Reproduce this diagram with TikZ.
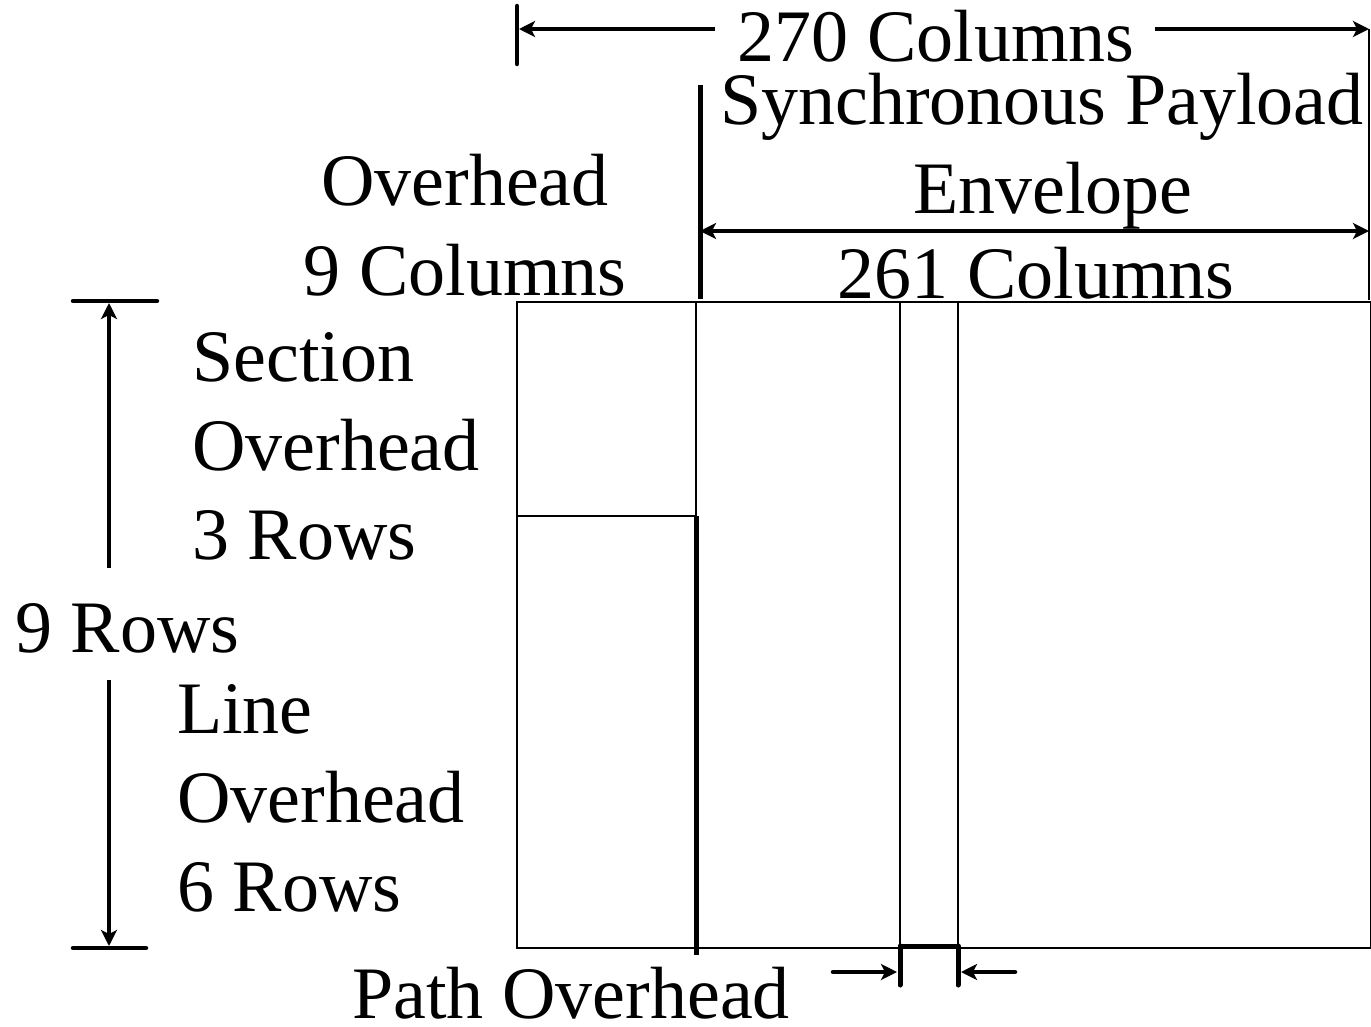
\documentclass[tikz,border=0pt]{standalone}
\usepackage{fontspec}
\setmainfont{Liberation Serif}
\usetikzlibrary{arrows.meta}
\begin{document}
\begin{tikzpicture}[x=1pt,y=-1pt,
  lbl/.style={inner sep=0pt,font=\fontsize{74}{89}\selectfont},
  thin/.style={line width=2.5pt},
  thick/.style={line width=5pt},
  arr/.style={line width=4.5pt,-{Stealth[length=16pt,width=16pt,inset=4pt]}},
  tick/.style={line width=4.5pt,line cap=round}]
\useasboundingbox (0,0) rectangle (1371,1026);
% main frame
\coordinate (tl) at (517,302);
\coordinate (br) at (1371,948);
\draw[thin] (tl) rectangle (br);
\coordinate (oh1) at (696,302);
\coordinate (oh2) at (696,516);
\coordinate (oh3) at (696,955);
\coordinate (so) at (517,516);
\draw[thin] (oh1) -- (oh2);
\draw[thick] (oh2) -- (oh3);
\draw[thin] (so) -- (oh2);
% path overhead column
\coordinate (p1t) at (900,302);
\coordinate (p1b) at (900,946);
\coordinate (p1e) at (900,985);
\coordinate (p2t) at (958,302);
\coordinate (p2b) at (958,946);
\coordinate (p2e) at (958,985);
\draw[thin] (p1t) -- (p1b);
\draw[thin] (p2t) -- (p2b);
\draw[thick,line cap=round] (p1b) -- (p1e);
\draw[thick,line cap=round] (p2b) -- (p2e);
\draw[thick] (p1b) -- (p2b);
\coordinate (pa1) at (833,972);
\coordinate (pa1e) at (897,972);
\coordinate (pa2) at (1015,972);
\coordinate (pa2e) at (961,972);
\draw[arr,line cap=round] (pa1) -- (pa1e);
\draw[arr,line cap=round] (pa2) -- (pa2e);
\node[lbl,anchor=base west] (path) at (352,1018) {Path Overhead};
% top dimension: 270 columns
\coordinate (t0a) at (517,6);
\coordinate (t0b) at (517,64);
\draw[tick] (t0a) -- (t0b);
\node[lbl,anchor=base] (c270) at (936,61) {270 Columns};
\coordinate (a270l) at (519,29);
\coordinate (a270r) at (1369,29);
\draw[arr] (c270.west|-a270l) ++(-22,0) -- (a270l);
\draw[arr] (c270.east|-a270r) ++(20,0) -- (a270r);
\coordinate (rv1) at (1369,29);
\coordinate (rv2) at (1369,300);
\draw[thin] (rv1) -- (rv2);
% SPE
\coordinate (spe1) at (700,85);
\coordinate (spe2) at (700,299);
\draw[thick] (spe1) -- (spe2);
\coordinate (a261l) at (700,231);
\coordinate (a261r) at (1369,231);
\draw[arr,{Stealth[length=16pt,width=16pt,inset=4pt]}-{Stealth[length=16pt,width=16pt,inset=4pt]}] (a261l) -- (a261r);
\node[lbl,anchor=base west] (spe) at (720,124) {Synchronous Payload};
\node[lbl,anchor=base] (env) at (1053,213) {Envelope};
\node[lbl,anchor=base] (c261) at (1036,298) {261 Columns};
% overhead
\node[lbl,anchor=base] (ovh) at (465,205) {Overhead};
\node[lbl,anchor=base] (c9) at (465,295) {9 Columns};
% left rows dimension
\coordinate (lt1) at (73,301);
\coordinate (lt2) at (157,301);
\coordinate (lb1) at (73,948);
\coordinate (lb2) at (146,948);
\draw[tick] (lt1) -- (lt2);
\draw[tick] (lb1) -- (lb2);
\coordinate (ua1) at (109,568);
\coordinate (ua2) at (109,303);
\coordinate (da1) at (109,680);
\coordinate (da2) at (109,946);
\draw[arr] (ua1) -- (ua2);
\draw[arr] (da1) -- (da2);
\node[lbl,anchor=base west] (r9) at (15,652) {9 Rows};
\node[lbl,anchor=base west] (s1) at (192,381) {Section};
\node[lbl,anchor=base west] (s2) at (192,470) {Overhead};
\node[lbl,anchor=base west] (s3) at (192,559) {3 Rows};
\node[lbl,anchor=base west] (l1) at (177,733) {Line};
\node[lbl,anchor=base west] (l2) at (177,822) {Overhead};
\node[lbl,anchor=base west] (l3) at (177,911) {6 Rows};
\end{tikzpicture}
\end{document}
